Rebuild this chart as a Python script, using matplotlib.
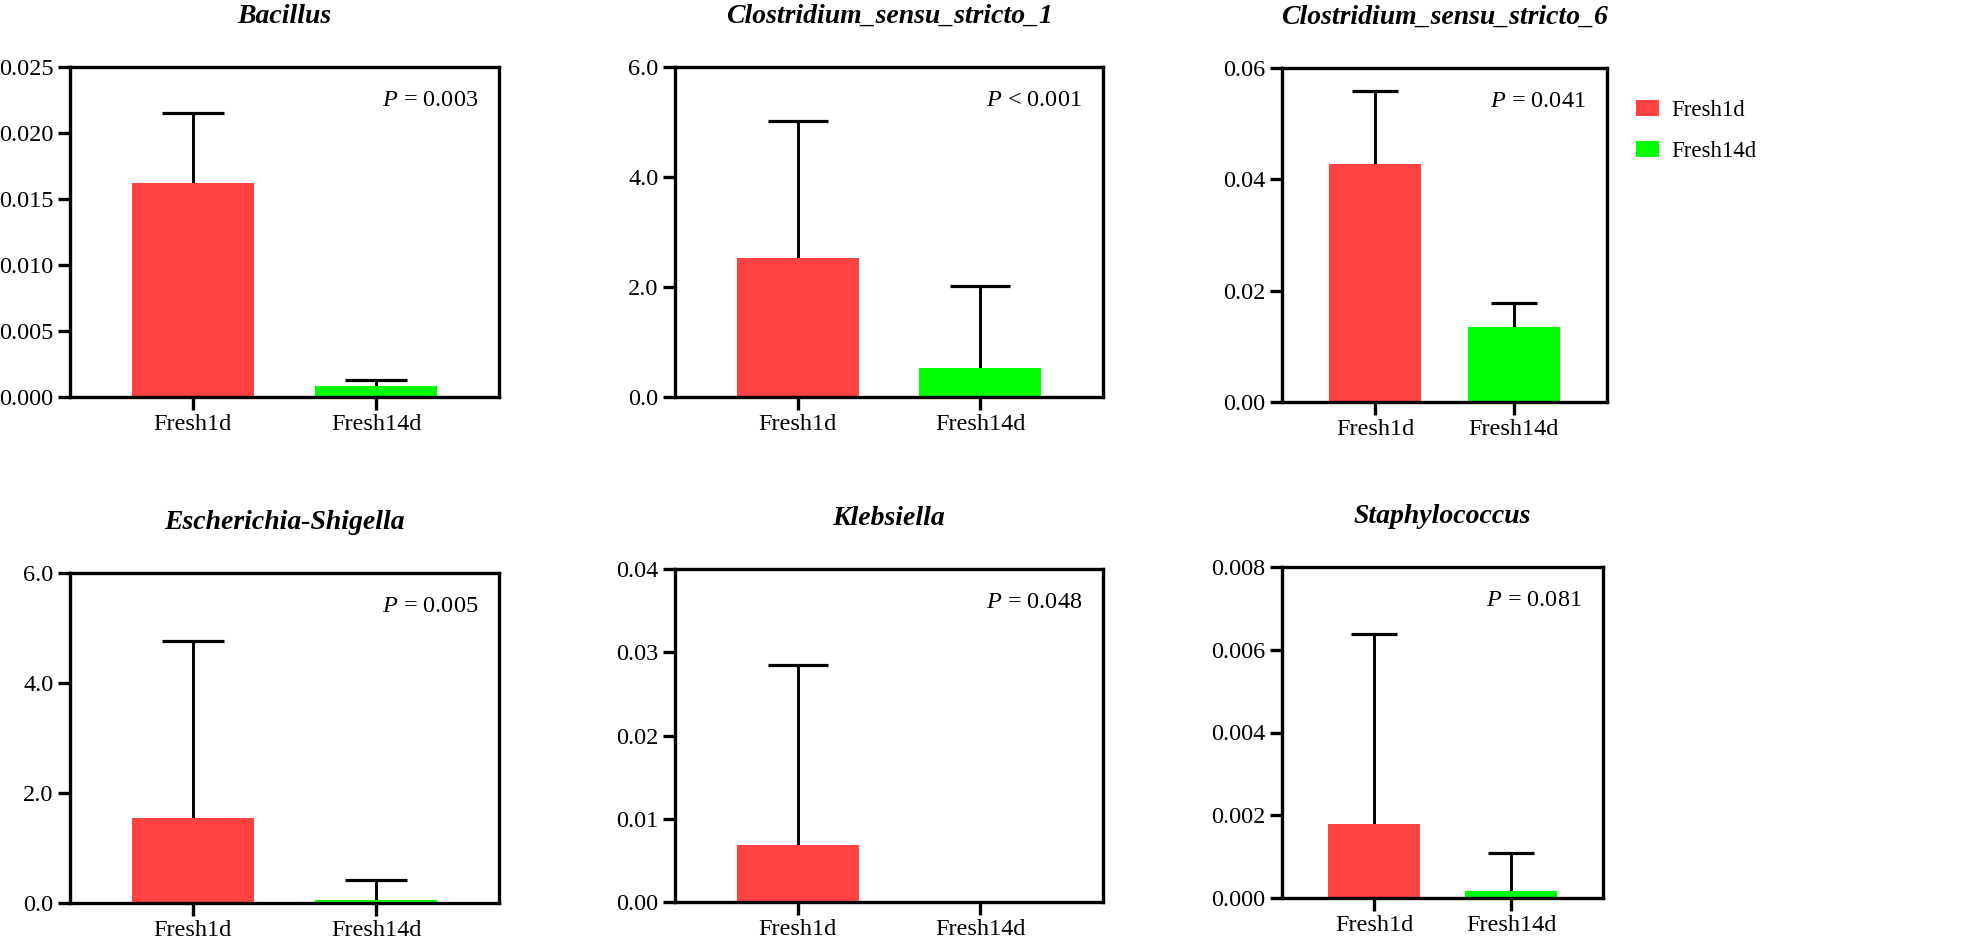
import numpy as np
import matplotlib
matplotlib.use("Agg")
import matplotlib.pyplot as plt
from matplotlib.patches import Patch
from matplotlib.ticker import FormatStrFormatter, MultipleLocator

plt.rcParams['font.family'] = ['Liberation Serif', 'DejaVu Serif']
plt.rcParams['mathtext.fontset'] = 'custom'
plt.rcParams['mathtext.rm'] = 'Liberation Serif'
plt.rcParams['mathtext.it'] = 'Liberation Serif:italic'

# data (mean and upper SD)
groups = ['Fresh1d', 'Fresh14d']
genera = ['Bacillus', 'Clostridium_sensu_stricto_1', 'Clostridium_sensu_stricto_6',
          'Escherichia-Shigella', 'Klebsiella', 'Staphylococcus']
fresh1d_mean = [0.0162, 2.52, 0.0427, 1.54, 0.0069, 0.00178]
fresh1d_sd = [0.0053, 2.50, 0.0132, 3.22, 0.0216, 0.0046]
fresh14d_mean = [0.0008, 0.52, 0.0135, 0.06, 0.0, 0.00018]
fresh14d_sd = [0.0005, 1.49, 0.0043, 0.36, 0.0, 0.00091]
p_labels = ['$P$ = 0.003', '$P$ < 0.001', '$P$ = 0.041',
            '$P$ = 0.005', '$P$ = 0.048', '$P$ = 0.081']
y_max = [0.025, 6.0, 0.06, 6.0, 0.04, 0.008]
y_step = [0.005, 2.0, 0.02, 2.0, 0.01, 0.002]
y_fmt = ['%.3f', '%.1f', '%.2f', '%.1f', '%.2f', '%.3f']

colors = ['#ff4242', '#00ff00']

# axes boxes in pixels: left, top, right, bottom
W, H = 1966, 946
boxes = [(70, 67, 499, 397), (675, 67, 1103, 397), (1282, 68, 1607, 402),
         (70, 573, 499, 903), (675, 569, 1103, 902), (1282, 567, 1603, 898)]

fig = plt.figure(figsize=(W / 100, H / 100), dpi=100)

lw = 2.4
xlo, xhi = -0.67, 1.67
bw = 0.667
for i, g in enumerate(genera):
    l, t, r, b = boxes[i]
    ax = fig.add_axes([l / W, 1 - b / H, (r - l) / W, (b - t) / H])
    means = [fresh1d_mean[i], fresh14d_mean[i]]
    sds = [fresh1d_sd[i], fresh14d_sd[i]]
    x = np.arange(len(groups))
    ax.bar(x, means, width=bw, color=colors, linewidth=0, zorder=2)
    px_per_unit = (r - l) / (xhi - xlo)
    cap = bw / 4 * px_per_unit * 72 / 100
    for k in range(len(groups)):
        if sds[k] > 0:
            eb = ax.errorbar(x[k], means[k], yerr=[[0], [sds[k]]], fmt='none', ecolor='black',
                             elinewidth=2.1, capsize=cap, capthick=2.3, zorder=1)
            # only the upper cap is drawn
            eb[1][0].set_visible(False)
    ax.set_xlim(xlo, xhi)
    ax.set_ylim(0, y_max[i])
    ax.yaxis.set_major_locator(MultipleLocator(y_step[i]))
    ax.yaxis.set_major_formatter(FormatStrFormatter(y_fmt[i]))
    ax.set_xticks(x)
    ax.set_xticklabels(groups)
    for s in ax.spines.values():
        s.set_linewidth(lw)
    ax.tick_params(axis='both', direction='out', length=9, width=lw, labelsize=17.5)
    ax.tick_params(axis='y', pad=3)
    ax.tick_params(axis='x', pad=3)
    ax.annotate(g, xy=(0.5, 1), xycoords='axes fraction', xytext=(0, 31.5),
                textcoords='offset points', ha='center', va='baseline',
                fontsize=20, fontweight='bold', fontstyle='italic')
    ax.annotate(p_labels[i], xy=(1, 1), xycoords='axes fraction', xytext=(-15, -24),
                textcoords='offset points', ha='right', va='center', fontsize=17.5)

handles = [Patch(facecolor=c, edgecolor='none') for c in colors]
fig.legend(handles, groups, loc='upper left', bbox_to_anchor=(1636 / W, 1 - 100 / H),
           frameon=False, fontsize=16.5, handlelength=1.0, handleheight=0.7,
           handletextpad=0.55, labelspacing=0.85, borderpad=0, borderaxespad=0)

fig.savefig('out.png', dpi=100)
